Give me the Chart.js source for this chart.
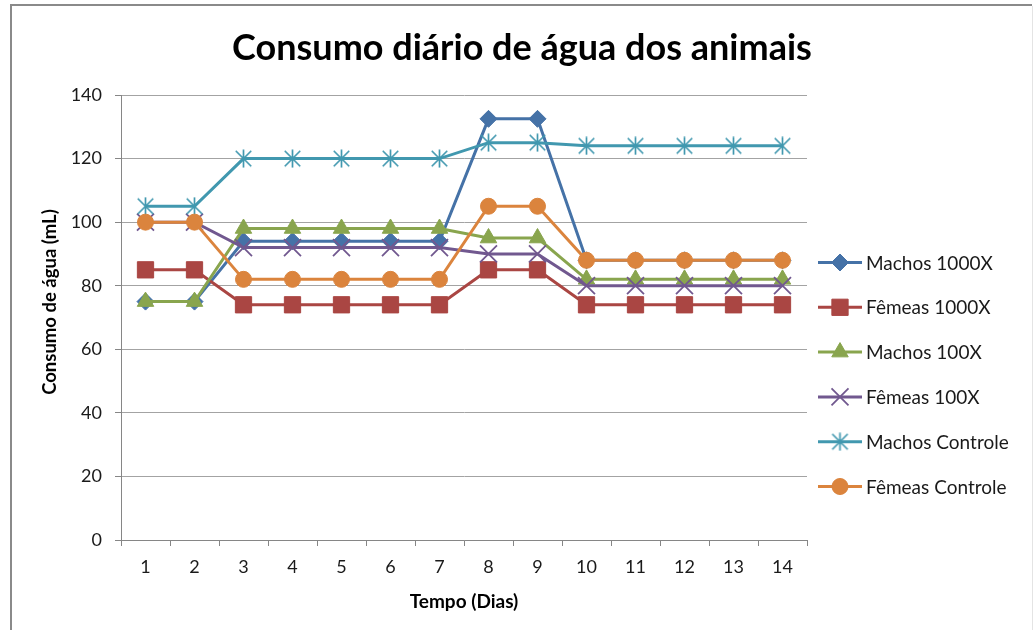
<!DOCTYPE html>
<html>
<head>
<meta charset="utf-8">
<title>Consumo diário de água dos animais</title>
<script src="https://cdn.jsdelivr.net/npm/chart.js@4/dist/chart.umd.min.js"></script>
<style>
  html, body { margin: 0; padding: 0; background: #ffffff; }
  canvas { display: block; }
</style>
</head>
<body>
<canvas id="chart" width="1033" height="630"></canvas>
<script>
// Days of observation
const dias = ['1', '2', '3', '4', '5', '6', '7', '8', '9', '10', '11', '12', '13', '14'];

// Daily water intake per group (mL)
const machos1000X   = [75, 75, 94, 94, 94, 94, 94, 132.5, 132.5, 88, 88, 88, 88, 88];
const femeas1000X   = [85, 85, 74, 74, 74, 74, 74, 85, 85, 74, 74, 74, 74, 74];
const machos100X    = [75, 75, 98, 98, 98, 98, 98, 95, 95, 82, 82, 82, 82, 82];
const femeas100X    = [100, 100, 92, 92, 92, 92, 92, 90, 90, 80, 80, 80, 80, 80];
const machosControle = [105, 105, 120, 120, 120, 120, 120, 125, 125, 124, 124, 124, 124, 124];
const femeasControle = [100, 100, 82, 82, 82, 82, 82, 105, 105, 88, 88, 88, 88, 88];

// Value axis ticks
const yTickValues = [0, 20, 40, 60, 80, 100, 120, 140];

const chartTitle = 'Consumo diário de água dos animais';
const yAxisTitle = 'Consumo de água (mL)';
const xAxisTitle = 'Tempo (Dias)';

const FONT = 'Lato, "Open Sans", "Liberation Sans", sans-serif';
Chart.defaults.font.family = FONT;

// Asterisk marker: vertical stroke plus a diagonal cross
function asteriskMarker(color, size) {
  const c = document.createElement('canvas');
  c.width = size; c.height = size;
  const g = c.getContext('2d');
  g.strokeStyle = color;
  g.lineWidth = 1.7;
  const m = size / 2, a = size / 2 - 0.5, d = a * 0.86;
  g.beginPath();
  g.moveTo(m, m - a); g.lineTo(m, m + a);
  g.moveTo(m - d, m - d); g.lineTo(m + d, m + d);
  g.moveTo(m + d, m - d); g.lineTo(m - d, m + d);
  g.stroke();
  return c;
}

function serie(label, data, color, pointStyle, radius, order, extra) {
  return Object.assign({
    label, data,
    borderColor: color,
    backgroundColor: color,
    pointBackgroundColor: color,
    pointBorderColor: color,
    borderWidth: 3,
    pointStyle,
    pointRadius: radius,
    pointBorderWidth: 1,
    tension: 0,
    order
  }, extra || {});
}

const datasets = [
  serie('Machos 1000X', machos1000X, '#4572A7', 'rectRot', 8.5, 6),
  serie('Fêmeas 1000X', femeas1000X, '#AA4643', 'rect', 11.5, 5),
  serie('Machos 100X', machos100X, '#89A54E', 'triangle', 9.5, 4),
  serie('Fêmeas 100X', femeas100X, '#71588F', 'crossRot', 12, 3, { pointBorderWidth: 1.8 }),
  serie('Machos Controle', machosControle, '#4198AF', asteriskMarker('#4198AF', 19), 9.5, 2),
  serie('Fêmeas Controle', femeasControle, '#DB843D', 'circle', 8, 1)
];

// Outer frame of the chart and the main title
const framePlugin = {
  id: 'frame',
  beforeDraw(chart) {
    const ctx = chart.ctx;
    ctx.save();
    ctx.fillStyle = '#ffffff';
    ctx.fillRect(0, 0, chart.width, chart.height);
    ctx.strokeStyle = '#8a8a8a';
    ctx.lineWidth = 2;
    ctx.beginPath();
    ctx.moveTo(11, chart.height);
    ctx.lineTo(11, 5);
    ctx.lineTo(chart.width - 1, 5);
    ctx.stroke();
    ctx.strokeStyle = '#e4e4e4';
    ctx.lineWidth = 1;
    ctx.beginPath();
    ctx.moveTo(chart.width - 0.5, 6);
    ctx.lineTo(chart.width - 0.5, chart.height);
    ctx.stroke();

    ctx.font = 'bold 36px ' + FONT;
    ctx.fillStyle = '#000000';
    ctx.textAlign = 'center';
    ctx.textBaseline = 'middle';
    ctx.fillText(chartTitle, 522, 48);
    ctx.restore();
  }
};

// Vertical value-axis title
const yTitlePlugin = {
  id: 'yTitle',
  afterDraw(chart) {
    const ctx = chart.ctx;
    ctx.save();
    ctx.translate(50, 302);
    ctx.rotate(-Math.PI / 2);
    ctx.font = 'bold 18.5px ' + FONT;
    ctx.fillStyle = '#000000';
    ctx.textAlign = 'center';
    ctx.textBaseline = 'middle';
    ctx.fillText(yAxisTitle, 0, 0);
    ctx.restore();
  }
};

// Legend on the right: line segment with the series marker, then its name
const sideLegendPlugin = {
  id: 'sideLegend',
  afterDraw(chart) {
    const ctx = chart.ctx;
    const x0 = 818, x1 = 862, xm = 840, xt = 866;
    const yStart = 262.5, step = 44.8;
    chart.data.datasets.forEach((ds, i) => {
      const y = yStart + i * step;
      ctx.save();
      ctx.strokeStyle = ds.borderColor;
      ctx.lineWidth = 3;
      ctx.beginPath();
      ctx.moveTo(x0, y);
      ctx.lineTo(x1, y);
      ctx.stroke();
      ctx.fillStyle = ds.pointBackgroundColor;
      ctx.strokeStyle = ds.pointBorderColor;
      ctx.lineWidth = ds.pointBorderWidth;
      Chart.helpers.drawPoint(ctx, {
        pointStyle: ds.pointStyle,
        radius: ds.pointRadius,
        rotation: 0,
        borderWidth: ds.pointBorderWidth
      }, xm, y);
      ctx.fillStyle = '#1a1a1a';
      ctx.font = '19px ' + FONT;
      ctx.textAlign = 'left';
      ctx.textBaseline = 'middle';
      ctx.fillText(ds.label, xt, y + 1);
      ctx.restore();
    });
  }
};

new Chart(document.getElementById('chart'), {
  type: 'line',
  data: { labels: dias, datasets },
  plugins: [framePlugin, yTitlePlugin, sideLegendPlugin],
  options: {
    responsive: false,
    animation: false,
    events: [],
    layout: { padding: { left: 0, right: 226, top: 95, bottom: 0 } },
    plugins: {
      legend: { display: false },
      tooltip: { enabled: false },
      title: { display: false }
    },
    scales: {
      x: {
        type: 'category',
        offset: true,
        afterFit(scale) { scale.height = 90; },
        grid: {
          offset: true,
          drawOnChartArea: false,
          drawTicks: true,
          tickLength: 6,
          color: '#868686',
          lineWidth: 1
        },
        border: { display: true, color: '#868686', width: 1 },
        ticks: {
          color: '#1a1a1a',
          font: { size: 18 },
          padding: 10,
          maxRotation: 0,
          autoSkip: false
        },
        title: {
          display: true,
          text: xAxisTitle,
          color: '#000000',
          font: { size: 19, weight: 'bold' },
          padding: { top: 0, bottom: 17 }
        }
      },
      y: {
        min: yTickValues[0],
        max: yTickValues[yTickValues.length - 1],
        afterFit(scale) { scale.width = 121; },
        afterBuildTicks(scale) { scale.ticks = yTickValues.map(v => ({ value: v })); },
        grid: {
          color: '#a3a3a3',
          tickColor: '#868686',
          lineWidth: 1,
          drawTicks: true,
          tickLength: 6
        },
        border: { display: true, color: '#868686', width: 1 },
        ticks: {
          color: '#1a1a1a',
          font: { size: 18 },
          padding: 13
        }
      }
    }
  }
});
</script>
</body>
</html>
